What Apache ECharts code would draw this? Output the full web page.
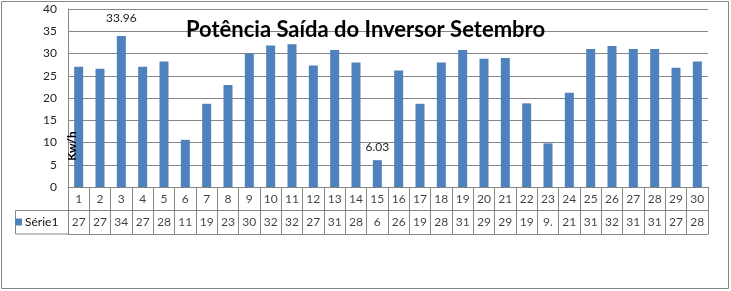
<!DOCTYPE html>
<html>
<head>
<meta charset="utf-8">
<script src="https://cdn.jsdelivr.net/npm/echarts@6/dist/echarts.min.js"></script>
<style>
html,body{margin:0;padding:0;background:#fff;}
#chart{width:731px;height:291px;}
</style>
</head>
<body>
<div id="chart"></div>
<script>
const days = ['1','2','3','4','5','6','7','8','9','10','11','12','13','14','15','16','17','18','19','20','21','22','23','24','25','26','27','28','29','30'];
const potencia = [27.0, 26.6, 33.96, 27.0, 28.2, 10.6, 18.7, 22.9, 30.0, 31.8, 32.1, 27.3, 30.8, 28.0, 6.03, 26.2, 18.7, 28.0, 30.8, 28.8, 29.0, 18.8, 9.8, 21.2, 31.0, 31.7, 31.0, 31.0, 26.8, 28.2];
const tableText = ['27','27','34','27','28','11','19','23','30','32','32','27','31','28','6','26','19','28','31','29','29','19','9.','21','31','32','31','31','27','28'];
const labeledDays = ['3','15'];
const yTicks = {min: 0, max: 40, interval: 5};
const seriesName = 'Série1';
const titleText = 'Potência Saída do Inversor Setembro';
const yName = 'Kw/h';

const FONT = 'Lato, "Liberation Sans", sans-serif';
const GRID_COLOR = '#868686';
const BAR_COLOR = '#4F81BD';

const chart = echarts.init(document.getElementById('chart'), null, {renderer: 'canvas'});

const barData = potencia.map((v, i) => labeledDays.includes(days[i]) ? {
  value: v,
  label: {show: true, position: 'top', distance: i === 2 ? 12 : 7, formatter: p => p.value.toFixed(2),
          fontFamily: FONT, fontSize: 12, color: '#222'}
} : v);

const row1 = days.map((d, i) => [i, 0, d]);
const row2 = tableText.map((t, i) => [i, 1, t]);

const cellLabel = {
  show: true, position: 'inside', formatter: p => p.data[2],
  fontFamily: FONT, fontSize: 12, color: '#111'
};

chart.setOption({
  animation: false,
  backgroundColor: '#fff',
  title: {
    text: titleText, left: 'center', top: 14,
    textStyle: {fontFamily: FONT, fontSize: 22, fontWeight: 'bold', color: '#000'}
  },
  legend: {
    data: [seriesName], left: 15, top: 216, itemWidth: 7, itemHeight: 7, itemGap: 2,
    icon: 'rect', padding: [0, 0, 0, 0],
    textStyle: {fontFamily: FONT, fontSize: 12, color: '#111', padding: [0, 0, 0, -2]}
  },
  grid: [
    {left: 68, right: 23, top: 9, height: 178},
    {left: 68, right: 23, top: 187, height: 47}
  ],
  xAxis: [
    {type: 'category', data: days, gridIndex: 0,
     axisLine: {show: true, lineStyle: {color: GRID_COLOR}},
     axisTick: {show: false}, axisLabel: {show: false}, splitLine: {show: false}},
    {type: 'category', data: days, gridIndex: 1,
     axisLine: {show: true, lineStyle: {color: GRID_COLOR}},
     axisTick: {show: false}, axisLabel: {show: false},
     splitLine: {show: true, interval: 0, lineStyle: {color: GRID_COLOR}}}
  ],
  yAxis: [
    {type: 'value', gridIndex: 0, min: yTicks.min, max: yTicks.max, interval: yTicks.interval,
     axisLine: {show: true, lineStyle: {color: GRID_COLOR}},
     axisTick: {show: false},
     axisLabel: {fontFamily: FONT, fontSize: 12, color: '#222', margin: 11},
     splitLine: {show: true, lineStyle: {color: GRID_COLOR}}},
    {type: 'category', data: ['r1', 'r2'], gridIndex: 1, inverse: true,
     axisLine: {show: true, lineStyle: {color: GRID_COLOR}},
     axisTick: {show: false}, axisLabel: {show: false},
     splitLine: {show: true, interval: 0, lineStyle: {color: GRID_COLOR}}}
  ],
  series: [
    {name: seriesName, type: 'bar', xAxisIndex: 0, yAxisIndex: 0, data: barData,
     barWidth: 9, itemStyle: {color: BAR_COLOR}},
    {name: 'row1', type: 'scatter', xAxisIndex: 1, yAxisIndex: 1, data: row1,
     symbol: 'circle', symbolSize: 1, itemStyle: {color: 'rgba(0,0,0,0)'}, label: cellLabel, silent: true},
    {name: 'row2', type: 'scatter', xAxisIndex: 1, yAxisIndex: 1, data: row2,
     symbol: 'circle', symbolSize: 1, itemStyle: {color: 'rgba(0,0,0,0)'}, label: cellLabel, silent: true}
  ],
  graphic: [
    {type: 'rect', shape: {x: 1.5, y: 1.5, width: 727, height: 287},
     style: {fill: null, stroke: GRID_COLOR, lineWidth: 1}, z: -1},
    {type: 'rect', shape: {x: 15.5, y: 210.5, width: 53, height: 23.5},
     style: {fill: null, stroke: GRID_COLOR, lineWidth: 1}, z: 0},
    {type: 'text', x: 72, y: 146, rotation: Math.PI / 2, z: 10,
     style: {text: yName, align: 'center', verticalAlign: 'middle',
             font: 'bold 12px ' + FONT, fill: '#000'}}
  ]
});
</script>
</body>
</html>
